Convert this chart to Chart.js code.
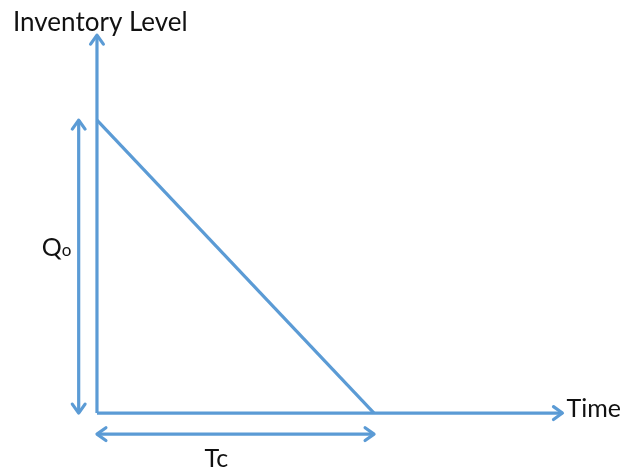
<!DOCTYPE html>
<html>
<head>
<meta charset="utf-8">
<script src="https://cdn.jsdelivr.net/npm/chart.js@4"></script>
<style>
  html, body { margin: 0; padding: 0; background: #fff; }
  #wrap { width: 627px; height: 474px; }
</style>
</head>
<body>
<div id="wrap"><canvas id="c" width="627" height="474"></canvas></div>
<script>
// EOQ sawtooth (single cycle): stock starts at Q0 and runs down to zero at Tc.
// Units: time in cycles (Tc = 1), level in lots (Q0 = 1).
const timeAxisX   = [0, 1.68];
const timeAxisY   = [0, 0];
const levelAxisX  = [0, 0];
const levelAxisY  = [0, 1.29];
const depletionX  = [0, 1];      // t = 0 .. Tc
const depletionY  = [1, 0];      // Q0 .. 0
const q0SpanX     = [-0.066, -0.066];
const q0SpanY     = [1, 0];
const tcSpanX     = [0, 1];
const tcSpanY     = [-0.072, -0.072];

const BLUE = "#5b9bd5";
const LW = 3.2;

const pts = (xs, ys) => xs.map((x, i) => ({ x, y: ys[i] }));

function line(xs, ys, heads) {
  return {
    data: pts(xs, ys),
    showLine: true,
    borderColor: BLUE,
    borderWidth: LW,
    pointRadius: 0,
    fill: false,
    heads: heads || "none",
  };
}

// open chevron heads at the end(s) of a dataset's segment
const arrowPlugin = {
  id: "arrows",
  afterDatasetsDraw(chart) {
    const { ctx, scales: { x, y } } = chart;
    ctx.save();
    ctx.strokeStyle = BLUE;
    ctx.lineWidth = LW;
    ctx.lineCap = "round";
    ctx.lineJoin = "round";
    chart.data.datasets.forEach((ds) => {
      if (ds.heads === "none") return;
      const p = ds.data.map((d) => [x.getPixelForValue(d.x), y.getPixelForValue(d.y)]);
      const ends = ds.heads === "both" ? [[p[0], p[1]], [p[1], p[0]]] : [[p[1], p[0]]];
      ends.forEach(([tip, from]) => {
        const a = Math.atan2(tip[1] - from[1], tip[0] - from[0]);
        const len = 11, spread = 0.62;
        ctx.beginPath();
        ctx.moveTo(tip[0] - len * Math.cos(a - spread), tip[1] - len * Math.sin(a - spread));
        ctx.lineTo(tip[0], tip[1]);
        ctx.lineTo(tip[0] - len * Math.cos(a + spread), tip[1] - len * Math.sin(a + spread));
        ctx.stroke();
      });
    });
    ctx.restore();
  },
};

// axis captions and span labels, anchored to data positions
const labelPlugin = {
  id: "labels",
  afterDraw(chart) {
    const { ctx, scales: { x, y } } = chart;
    ctx.save();
    ctx.fillStyle = "#111";
    ctx.textBaseline = "alphabetic";
    ctx.font = "26px Lato";
    ctx.textAlign = "left";
    ctx.fillText("Inventory Level", 13, y.getPixelForValue(levelAxisY[1]) - 4);
    ctx.font = "25px Lato";
    ctx.fillText("Time", x.getPixelForValue(timeAxisX[1]) + 4, y.getPixelForValue(0) + 4);
    ctx.fillText("Tc", x.getPixelForValue(0.5) - 31, y.getPixelForValue(tcSpanY[0]) + 33);
    ctx.textAlign = "left";
    const qx = x.getPixelForValue(q0SpanX[0]) - 37;
    const qy = y.getPixelForValue(0.535);
    ctx.fillText("Q", qx, qy);
    ctx.font = "17px Lato";
    ctx.fillText("o", qx + 20, qy);
    ctx.restore();
  },
};

new Chart(document.getElementById("c"), {
  type: "scatter",
  data: {
    datasets: [
      line(levelAxisX, levelAxisY, "end"),
      line(timeAxisX, timeAxisY, "end"),
      line(depletionX, depletionY),
      line(q0SpanX, q0SpanY, "both"),
      line(tcSpanX, tcSpanY, "both"),
    ],
  },
  options: {
    responsive: false,
    animation: false,
    layout: { padding: 0 },
    plugins: { legend: { display: false }, tooltip: { enabled: false } },
    scales: {
      x: { type: "linear", min: -0.35, max: 1.913, display: false },
      y: { type: "linear", min: -0.208, max: 1.41, display: false },
    },
  },
  plugins: [arrowPlugin, labelPlugin],
});
</script>
</body>
</html>
